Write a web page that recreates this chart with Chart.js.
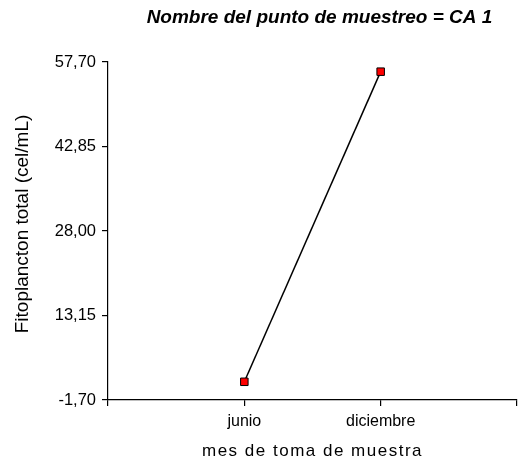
<!DOCTYPE html>
<html>
<head>
<meta charset="utf-8">
<script src="https://cdn.jsdelivr.net/npm/chart.js@4/dist/chart.umd.min.js"></script>
<style>
  html, body { margin: 0; padding: 0; background: #fff; }
  #wrap { width: 519px; height: 464px; }
</style>
</head>
<body>
<div id="wrap"><canvas id="c" width="519" height="464"></canvas></div>
<script>
// Sampling months and total phytoplankton per month (cel/mL)
const months = ['junio', 'diciembre'];
const fitoplancton = [1.5, 56.0];
// Y axis tick values
const yTicks = [-1.70, 13.15, 28.00, 42.85, 57.70];

const FONT = "'Liberation Sans', Arial, sans-serif";

const points = months.map((m, i) => ({ x: i + 1, y: fitoplancton[i] }));

// wraps a draw method so it runs with an extra canvas setting
function wrapDraw(obj, key, prep) {
  if (!obj || obj['_w_' + key]) return;
  const orig = obj[key];
  obj[key] = function () {
    this.ctx.save();
    prep(this.ctx);
    orig.apply(this, arguments);
    this.ctx.restore();
  };
  obj['_w_' + key] = true;
}

// letter-spaced x axis title, nudged y axis title and chart title
const textTweaks = {
  id: 'textTweaks',
  beforeDraw(chart) {
    wrapDraw(chart.scales.x, 'drawTitle', (ctx) => { ctx.letterSpacing = '1.5px'; });
    wrapDraw(chart.scales.y, 'drawTitle', (ctx) => { ctx.translate(0, -7); });
    wrapDraw(chart.titleBlock, 'draw', (ctx) => { ctx.translate(7, 0); });
  }
};

new Chart(document.getElementById('c'), {
  type: 'line',
  data: {
    datasets: [{
      data: points,
      borderColor: '#000',
      borderWidth: 1.5,
      pointStyle: 'rect',
      pointRadius: 5.3,
      pointBackgroundColor: '#ff0000',
      pointBorderColor: '#000',
      pointBorderWidth: 1,
      tension: 0,
      clip: false
    }]
  },
  options: {
    responsive: false,
    animation: false,
    layout: { autoPadding: false, padding: { left: 0, right: 2, top: 0, bottom: 0 } },
    plugins: {
      legend: { display: false },
      tooltip: { enabled: false },
      title: {
        display: true,
        text: 'Nombre del punto de muestreo = CA 1',
        fullSize: false,
        color: '#000',
        font: { family: FONT, size: 19, weight: 'bold', style: 'italic' },
        padding: { top: 6, bottom: 33.2 }
      }
    },
    scales: {
      x: {
        type: 'linear',
        min: 0,
        max: months.length + 1,
        afterFit(s) { s.height = 64; s.paddingLeft = 0; s.paddingRight = 0; },
        afterBuildTicks(s) {
          s.ticks = [];
          for (let v = 0; v <= months.length + 1; v++) s.ticks.push({ value: v });
        },
        ticks: {
          color: '#000',
          font: { family: FONT, size: 16 },
          padding: 6,
          maxRotation: 0,
          autoSkip: false,
          callback: (v) => months[v - 1] || ''
        },
        grid: { display: true, drawOnChartArea: false, drawTicks: true, tickLength: 6, color: '#000', lineWidth: 1.2 },
        border: { display: true, color: '#000', width: 1.2 },
        title: {
          display: true,
          text: 'mes de toma de muestra',
          color: '#000',
          font: { family: FONT, size: 17 },
          padding: { top: 0, bottom: 2 }
        }
      },
      y: {
        type: 'linear',
        min: yTicks[0],
        max: yTicks[yTicks.length - 1],
        afterFit(s) { s.width = 108; },
        afterBuildTicks(s) { s.ticks = yTicks.map(v => ({ value: v })); },
        ticks: {
          color: '#000',
          font: { family: FONT, size: 16.5 },
          padding: 6,
          autoSkip: false,
          callback: (v) => v.toFixed(2).replace('.', ',')
        },
        grid: { display: true, drawOnChartArea: false, drawTicks: true, tickLength: 6, color: '#000', lineWidth: 1.2 },
        border: { display: true, color: '#000', width: 1.2 },
        title: {
          display: true,
          text: 'Fitoplancton total (cel/mL)',
          color: '#000',
          font: { family: FONT, size: 19 },
          padding: { top: 11, bottom: 0 }
        }
      }
    }
  },
  plugins: [textTweaks]
});
</script>
</body>
</html>
